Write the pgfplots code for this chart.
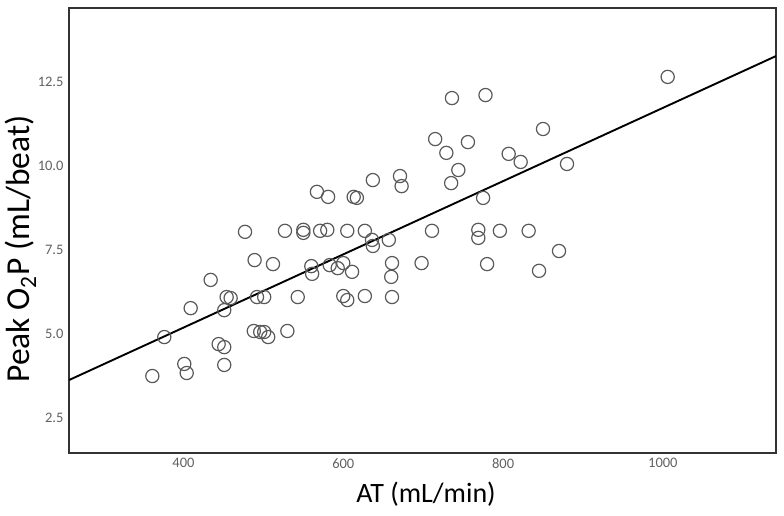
\documentclass[border=0pt]{standalone}
\usepackage{pgfplots}
\pgfplotsset{compat=1.18}
\usepackage{fontspec}
\setmainfont{Carlito}
\begin{document}
\begin{tikzpicture}[x=1pt,y=1pt]
\path[use as bounding box] (-69,-63) rectangle (715,453);
\begin{axis}[
  at={(0,0)}, anchor=south west,
  scale only axis, width=707pt, height=445pt,
  xmin=256.7, xmax=1141.6, ymin=1.46, ymax=14.7,
  xtick={400,600,800,1000}, ytick={2.5,5,7.5,10,12.5},
  /pgf/number format/assume math mode=true,
  xticklabel style={/pgf/number format/1000 sep={}, yshift=-2pt},
  yticklabel style={/pgf/number format/.cd, fixed, fixed zerofill, precision=1, /tikz/.cd, xshift=-2pt},
  tick style={draw=none},
  axis line style={line width=1.3pt, color=black!80},
  ticklabel style={font=\fontsize{14.5}{16}\selectfont, color=black!62},
  xlabel={AT (mL/min)},
  ylabel={Peak O\textsubscript{2}P (mL/beat)},
  xlabel style={font=\fontsize{28}{32}\selectfont, at={(axis description cs:0.505,-0.0921)}, anchor=center},
  ylabel style={font=\fontsize{33.5}{37}\selectfont, at={(axis description cs:-0.0685,0.4584)}, anchor=center},
  clip=true,
]
\addplot[black, line width=1.9pt] coordinates {(256.7,3.63) (1141.6,13.27)};
\addplot[only marks, mark=o, mark size=6.6pt, mark options={draw=black!65, line width=1.2pt, fill=none}] coordinates {
(361,3.75) (376,4.91) (401,4.11) (404,3.84) (409,5.77) (434,6.61)
(444,4.70) (451,4.61) (451,4.08) (451,5.71) (454,6.10) (459,6.07)
(477,8.04) (489,7.20) (492,6.10) (488,5.09) (496,5.06) (501,6.10)
(501,5.06) (506,4.91) (512,7.08) (527,8.07) (530,5.09) (543,6.10)
(550,8.10) (550,8.01) (560,7.02) (561,6.79) (567,9.23) (571,8.07)
(580,8.10) (581,9.08) (583,7.05) (593,6.96) (600,7.11) (600,6.13)
(605,6.01) (605,8.07) (611,6.85) (613,9.08) (617,9.05) (627,6.13)
(627,8.07) (636,7.80) (637,7.62) (637,9.58) (657,7.80) (660,6.70)
(661,7.11) (661,6.10) (671,9.70) (673,9.40) (698,7.11) (711,8.07)
(715,10.80) (729,10.39) (735,9.49) (736,12.02) (744,9.88) (756,10.71)
(769,8.10) (769,7.86) (775,9.05) (778,12.11) (780,7.08) (796,8.07)
(807,10.36) (822,10.12) (832,8.07) (850,11.10) (845,6.88) (870,7.47)
(880,10.06) (1006,12.65)
};
\end{axis}
\end{tikzpicture}
\end{document}
